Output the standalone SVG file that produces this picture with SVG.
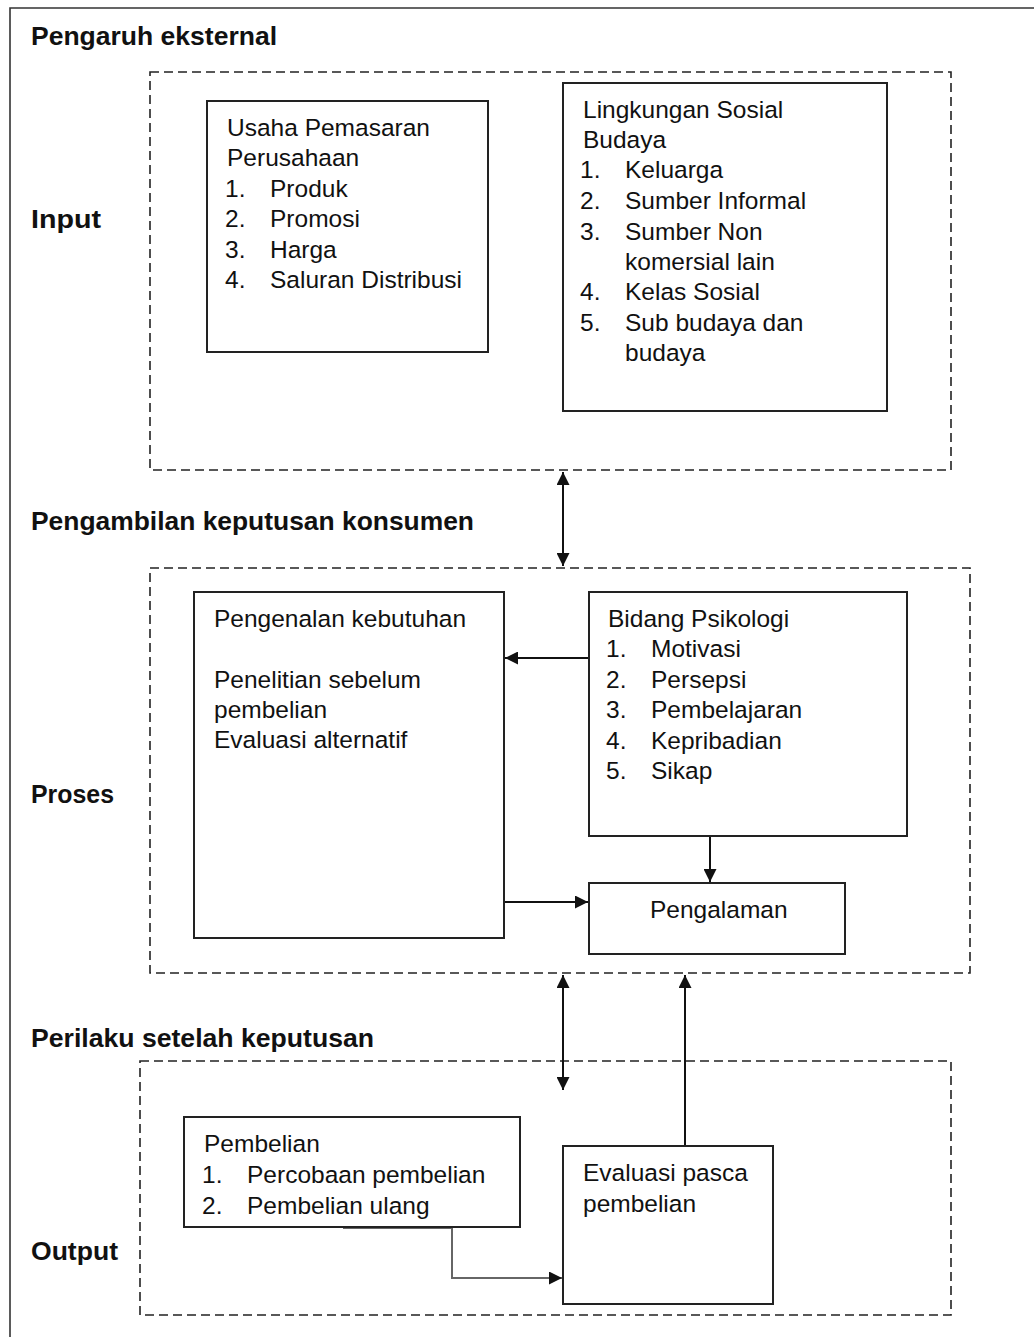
<svg xmlns="http://www.w3.org/2000/svg" width="1034" height="1337" viewBox="0 0 1034 1337">
  <style>
    .frame { fill: none; stroke: #333; stroke-width: 1.6; }
    .zone { fill: none; stroke: #222; stroke-width: 1.6; stroke-dasharray: 9 5; }
    .box { fill: #fff; stroke: #222; stroke-width: 2; }
    .txt { font-family: "Liberation Sans", Arial, sans-serif; font-size: 24.5px; fill: #111; }
    .hdr { font-family: "Liberation Sans", Arial, sans-serif; font-size: 26px; font-weight: bold; fill: #111; }
    .link { fill: none; stroke: #111; stroke-width: 2; }
    .link-gray { fill: none; stroke: #666; stroke-width: 2; }
  </style>
  <defs>
    <marker id="head" viewBox="0 0 12 12" refX="12" refY="6" markerWidth="13" markerHeight="13" markerUnits="userSpaceOnUse" orient="auto-start-reverse">
      <path d="M0,0 L12,6 L0,12 z" fill="#111"/>
    </marker>
  </defs>

  <rect width="1034" height="1337" fill="#fff"/>

  <!-- outer frame -->
  <path class="frame" d="M10,1337 V8 H1034"/>

  <!-- section headings -->
  <g id="headings">
    <text class="hdr" x="31" y="45" textLength="246" lengthAdjust="spacingAndGlyphs">Pengaruh eksternal</text>
    <text class="hdr" x="31" y="228" textLength="70" lengthAdjust="spacingAndGlyphs">Input</text>
    <text class="hdr" x="31" y="530" textLength="443" lengthAdjust="spacingAndGlyphs">Pengambilan keputusan konsumen</text>
    <text class="hdr" x="31" y="803" textLength="83" lengthAdjust="spacingAndGlyphs">Proses</text>
    <text class="hdr" x="31" y="1047" textLength="343" lengthAdjust="spacingAndGlyphs">Perilaku setelah keputusan</text>
    <text class="hdr" x="31" y="1260" textLength="87" lengthAdjust="spacingAndGlyphs">Output</text>
  </g>

  <!-- dashed stage zones -->
  <g id="zones">
    <rect id="zone-input" class="zone" x="150" y="72" width="801" height="398"/>
    <rect id="zone-proses" class="zone" x="150" y="568" width="820" height="405"/>
    <rect id="zone-output" class="zone" x="140" y="1061" width="811" height="254"/>
  </g>

  <!-- connectors -->
  <g id="connectors">
    <line class="link" x1="563" y1="472" x2="563" y2="566" marker-start="url(#head)" marker-end="url(#head)"/>
    <line class="link" x1="589" y1="658" x2="505" y2="658" marker-end="url(#head)"/>
    <line class="link" x1="710" y1="836" x2="710" y2="882" marker-end="url(#head)"/>
    <line class="link" x1="504" y1="902" x2="588" y2="902" marker-end="url(#head)"/>
    <line class="link" x1="563" y1="975" x2="563" y2="1090" marker-start="url(#head)" marker-end="url(#head)"/>
    <line class="link" x1="685" y1="1146" x2="685" y2="975" marker-end="url(#head)"/>
    <polyline class="link-gray" points="343,1228 452,1228 452,1278 562,1278" marker-end="url(#head)"/>
  </g>

  <g id="usaha-pemasaran">
    <rect class="box" x="207" y="101" width="281" height="251"/>
    <text class="txt" x="227" y="136">Usaha Pemasaran</text>
    <text class="txt" x="227" y="166">Perusahaan</text>
    <text class="txt" x="225" y="197">1.</text><text class="txt" x="270" y="197">Produk</text>
    <text class="txt" x="225" y="227">2.</text><text class="txt" x="270" y="227">Promosi</text>
    <text class="txt" x="225" y="258">3.</text><text class="txt" x="270" y="258">Harga</text>
    <text class="txt" x="225" y="288">4.</text><text class="txt" x="270" y="288">Saluran Distribusi</text>
  </g>

  <g id="lingkungan-sosial">
    <rect class="box" x="563" y="83" width="324" height="328"/>
    <text class="txt" x="583" y="118">Lingkungan Sosial</text>
    <text class="txt" x="583" y="148">Budaya</text>
    <text class="txt" x="580" y="178">1.</text><text class="txt" x="625" y="178">Keluarga</text>
    <text class="txt" x="580" y="209">2.</text><text class="txt" x="625" y="209">Sumber Informal</text>
    <text class="txt" x="580" y="240">3.</text><text class="txt" x="625" y="240">Sumber Non</text>
    <text class="txt" x="625" y="270">komersial lain</text>
    <text class="txt" x="580" y="300">4.</text><text class="txt" x="625" y="300">Kelas Sosial</text>
    <text class="txt" x="580" y="331">5.</text><text class="txt" x="625" y="331">Sub budaya dan</text>
    <text class="txt" x="625" y="361">budaya</text>
  </g>

  <g id="pengenalan-kebutuhan">
    <rect class="box" x="194" y="592" width="310" height="346"/>
    <text class="txt" x="214" y="627">Pengenalan kebutuhan</text>
    <text class="txt" x="214" y="688">Penelitian sebelum</text>
    <text class="txt" x="214" y="718">pembelian</text>
    <text class="txt" x="214" y="748">Evaluasi alternatif</text>
  </g>

  <g id="bidang-psikologi">
    <rect class="box" x="589" y="592" width="318" height="244"/>
    <text class="txt" x="608" y="627">Bidang Psikologi</text>
    <text class="txt" x="606" y="657">1.</text><text class="txt" x="651" y="657">Motivasi</text>
    <text class="txt" x="606" y="688">2.</text><text class="txt" x="651" y="688">Persepsi</text>
    <text class="txt" x="606" y="718">3.</text><text class="txt" x="651" y="718">Pembelajaran</text>
    <text class="txt" x="606" y="749">4.</text><text class="txt" x="651" y="749">Kepribadian</text>
    <text class="txt" x="606" y="779">5.</text><text class="txt" x="651" y="779">Sikap</text>
  </g>

  <g id="pengalaman">
    <rect class="box" x="589" y="883" width="256" height="71"/>
    <text class="txt" x="650" y="918">Pengalaman</text>
  </g>

  <g id="pembelian">
    <rect class="box" x="184" y="1117" width="336" height="110"/>
    <text class="txt" x="204" y="1152">Pembelian</text>
    <text class="txt" x="202" y="1183">1.</text><text class="txt" x="247" y="1183">Percobaan pembelian</text>
    <text class="txt" x="202" y="1214">2.</text><text class="txt" x="247" y="1214">Pembelian ulang</text>
  </g>

  <g id="evaluasi-pasca">
    <rect class="box" x="563" y="1146" width="210" height="158"/>
    <text class="txt" x="583" y="1181">Evaluasi pasca</text>
    <text class="txt" x="583" y="1212">pembelian</text>
  </g>
</svg>
